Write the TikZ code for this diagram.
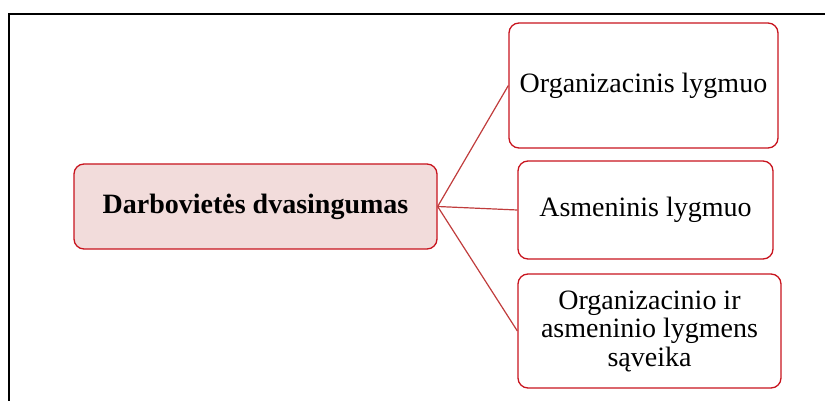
\documentclass[tikz,border=0pt]{standalone}
\usepackage{fontspec}
\setmainfont{Liberation Serif}
\definecolor{boxred}{RGB}{200,20,30}
\definecolor{linkred}{RGB}{192,60,60}
\definecolor{pinkfill}{RGB}{242,220,219}
\begin{document}
\begin{tikzpicture}[x=1pt,y=-1pt,
  box/.style={draw=boxred, line width=1.3pt, rounded corners=10pt, fill=white,
    inner sep=0pt, align=center, font=\fontsize{28}{28.5}\selectfont},
  link/.style={draw=linkred, line width=1.2pt}]
\useasboundingbox (0,0) rectangle (825,401);
\draw[black, line width=1.3pt] (9,401) -- (9,14) -- (825,14);
\node[box, fill=pinkfill, minimum width=363pt, minimum height=85pt] (main) at (255.5,206.5) {\textbf{Darbovietės dvasingumas}};
\node[box, minimum width=269pt, minimum height=125pt] (b1) at (643.5,85.5) {Organizacinis lygmuo};
\node[box, minimum width=255pt, minimum height=98pt] (b2) at (645.5,210) {Asmeninis lygmuo};
\node[box, minimum width=263pt, minimum height=114pt] (b3) at (649.5,331) {Organizacinio ir\\asmeninio lygmens\\sąveika};
\draw[link] (main.east) -- (b1.west);
\draw[link] (main.east) -- (b2.west);
\draw[link] (main.east) -- (b3.west);
\end{tikzpicture}
\end{document}
